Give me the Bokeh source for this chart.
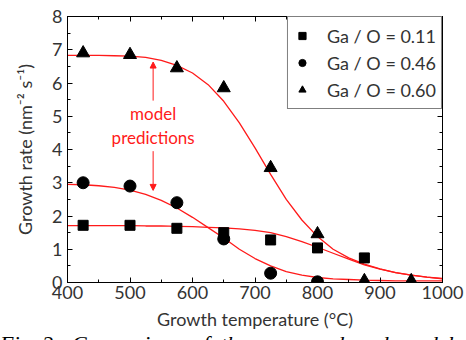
from bokeh.plotting import figure
from bokeh.layouts import column
from bokeh.models import (LinearAxis, Legend, LegendItem, Arrow, NormalHead, Div,
                          Range1d, SingleIntervalTicker, ColumnDataSource, CustomJSTickFormatter)
from bokeh.core.properties import value
from bokeh.embed import file_html
from bokeh.resources import INLINE

# measured data
temps_011 = [425, 500, 575, 650, 725, 800, 875]
rate_011 = [1.72, 1.72, 1.63, 1.50, 1.28, 1.04, 0.74]
temps_046 = [425, 500, 575, 650, 725, 800]
rate_046 = [3.00, 2.90, 2.40, 1.31, 0.28, 0.02]
temps_060 = [425, 500, 575, 650, 725, 800, 875, 950]
rate_060 = [6.90, 6.85, 6.45, 5.85, 3.45, 1.46, 0.05, 0.05]

# model curves
model_temps = [400, 425, 450, 475, 500, 525, 550, 575, 600, 625, 650, 675, 700,
               725, 750, 775, 800, 825, 850, 875, 900, 925, 950, 975, 1000]
model_011 = [1.71, 1.71, 1.71, 1.71, 1.71, 1.70, 1.70, 1.69, 1.68, 1.66, 1.64, 1.61, 1.57,
             1.50, 1.38, 1.23, 1.06, 0.88, 0.70, 0.53, 0.40, 0.30, 0.22, 0.16, 0.12]
model_046 = [2.95, 2.94, 2.91, 2.86, 2.78, 2.65, 2.47, 2.24, 1.96, 1.65, 1.34, 1.00, 0.72,
             0.50, 0.33, 0.22, 0.15, 0.11, 0.09, 0.07, 0.06, 0.05, 0.05, 0.05, 0.05]
model_060 = [6.83, 6.83, 6.83, 6.82, 6.81, 6.77, 6.68, 6.53, 6.30, 5.95, 5.45, 4.80, 4.05,
             3.25, 2.50, 1.88, 1.38, 1.00, 0.74, 0.55, 0.41, 0.30, 0.22, 0.16, 0.11]

series_labels = ["Ga / O = 0.11", "Ga / O = 0.46", "Ga / O = 0.60"]
x_ticks_interval = 100
y_ticks_interval = 1

FONT = "Lato"
TXT = "#333333"
RED = "#ff1a1a"

p = figure(width=466, height=340, x_range=Range1d(400, 1000), y_range=Range1d(0, 8),
           output_backend="svg", toolbar_location=None,
           min_border_left=67, min_border_right=24, min_border_top=16, min_border_bottom=58,
           x_axis_label="Growth temperature (°C)",
           y_axis_label="Growth rate (nm⁻² s⁻¹)")
p.xgrid.visible = False
p.ygrid.visible = False
p.outline_line_color = "black"
p.outline_line_width = 1
p.background_fill_color = "white"
p.border_fill_color = "white"
p.border_fill_alpha = 0

bottom = p.below[0]
left = p.left[0]

xt = SingleIntervalTicker(interval=x_ticks_interval, num_minor_ticks=2)
yt = SingleIntervalTicker(interval=y_ticks_interval, num_minor_ticks=2)
bottom.ticker = xt
left.ticker = yt

top = LinearAxis(ticker=xt)
right = LinearAxis(ticker=yt)
p.add_layout(top, "above")
p.add_layout(right, "right")

for ax in [bottom, left, top, right]:
    ax.major_tick_in = 5
    ax.major_tick_out = 0
    ax.minor_tick_in = 3
    ax.minor_tick_out = 0
    ax.axis_line_color = "black"
    ax.major_tick_line_color = "black"
    ax.minor_tick_line_color = "black"
    ax.major_label_text_font = FONT
    ax.major_label_text_font_size = "18px"
    ax.major_label_text_color = TXT
    ax.axis_label_text_font = FONT
    ax.axis_label_text_font_size = "18px"
    ax.axis_label_text_font_style = "normal"
    ax.axis_label_text_color = TXT

for ax in [top, right]:
    ax.formatter = CustomJSTickFormatter(code="return ''")
    ax.major_label_text_font_size = "1px"
    ax.major_label_standoff = 0

bottom.major_label_standoff = 3
bottom.axis_label_standoff = 6
left.major_label_standoff = 5
left.axis_label_standoff = 13

# model curves
for ys in [model_011, model_046, model_060]:
    p.line(model_temps, ys, line_color=RED, line_width=1.3)

r1 = p.scatter(temps_011, rate_011, marker="square", size=10, fill_color="black", line_color="black")
r2 = p.scatter(temps_046, rate_046, marker="circle", size=12, fill_color="black", line_color="black")
r3 = p.scatter(temps_060, rate_060, marker="triangle", size=13, fill_color="black", line_color="black")

legend = Legend(items=[LegendItem(label=series_labels[0], renderers=[r1]),
                       LegendItem(label=series_labels[1], renderers=[r2]),
                       LegendItem(label=series_labels[2], renderers=[r3])],
                location="top_right", margin=0, padding=5, spacing=0,
                label_height=27, glyph_height=27, glyph_width=18, label_standoff=16,
                label_text_font=FONT, label_text_font_size="18px", label_text_color=TXT,
                border_line_color="black", border_line_width=1,
                background_fill_color="white", background_fill_alpha=1)
p.add_layout(legend)

# annotation
ann_x = [537, 537]
ann_y = [5.08, 4.36]
ann_text = ["model", "predictions"]
src = ColumnDataSource(dict(x=ann_x, y=ann_y, t=ann_text))
p.text(x="x", y="y", text="t", source=src, text_color=RED, text_font=value(FONT),
       text_font_size="17px", text_align="center", text_baseline="middle")
p.add_layout(Arrow(x_start=537, y_start=5.47, x_end=537, y_end=6.63, line_color=RED, line_width=1,
                   end=NormalHead(size=6, fill_color=RED, line_color=RED)))
p.add_layout(Arrow(x_start=537, y_start=3.95, x_end=537, y_end=2.77, line_color=RED, line_width=1,
                   end=NormalHead(size=6, fill_color=RED, line_color=RED)))

caption = Div(text="Fig 2: Comparison of the measured and modeled",
              width=466, height=24, margin=(-8, 0, 0, 0),
              styles={"font-family": "'Liberation Serif', serif", "font-style": "italic",
                      "font-size": "22px", "color": "black", "white-space": "nowrap",
                      "word-spacing": "6px", "line-height": "24px"})

layout = column(p, caption, spacing=0)
open("out.html", "w").write(file_html(layout, INLINE))
